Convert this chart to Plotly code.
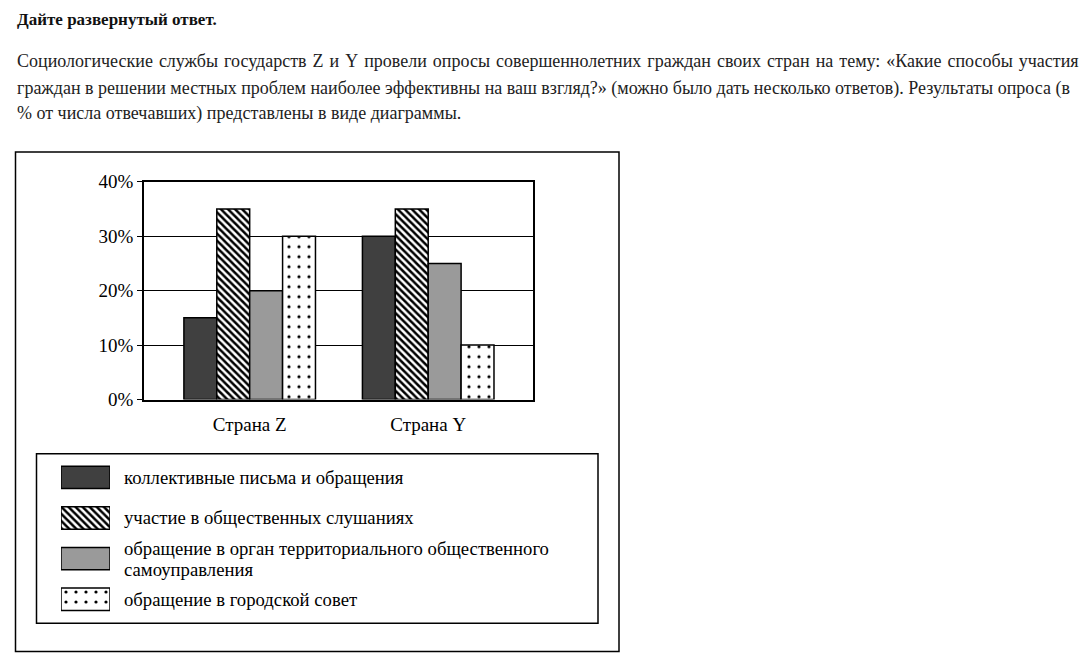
import plotly.graph_objects as go

W, H = 1088, 668

# ---- data ----
countries = ["Страна Z", "Страна Y"]
series_names = [
    "коллективные письма и обращения",
    "участие в общественных слушаниях",
    "обращение в орган территориального общественного<br>самоуправления",
    "обращение в городской совет",
]
collective_letters = [15, 30]
public_hearings = [35, 35]
self_government = [20, 25]
city_council = [30, 10]
series_values = [collective_letters, public_hearings, self_government, city_council]
y_ticks = [0, 10, 20, 30, 40]
y_tick_labels = ["0%", "10%", "20%", "30%", "40%"]

title_text = "Дайте развернутый ответ."
paragraph_lines = [
    "Социологические службы государств Z и Y провели опросы совершеннолетних граждан своих стран на тему: «Какие способы участия",
    "граждан в решении местных проблем наиболее эффективны на ваш взгляд?» (можно было дать несколько ответов). Результаты опроса (в",
    "% от числа отвечавших) представлены в виде диаграммы.",
]

# ---- styles ----
fills = ["#404040", "white", "#9a9a9a", "white"]
shapes_pat = ["", "\\", "", "."]
pat_size = [8, 5, 8, 10]
pat_sol = [0.3, 0.5, 0.3, 0.08]
SERIF = "Liberation Serif"
SCALE_Y, OFF_Y = 0.965, 10.9


def px(x):
    return x / W


def py(y):
    return 1 - ((y - OFF_Y) / SCALE_Y) / H


def marker_for(i):
    return dict(color=fills[i], line=dict(color="black", width=1.5),
                pattern=dict(shape=shapes_pat[i], fgcolor="black", bgcolor=fills[i],
                             size=pat_size[i], solidity=pat_sol[i], fillmode="replace"))


fig = go.Figure()

xpos = list(range(len(countries)))
for i, name in enumerate(series_names):
    fig.add_trace(go.Bar(
        x=xpos, y=series_values[i], name=name, marker=marker_for(i),
        showlegend=False, xaxis="x", yaxis="y",
    ))

# legend swatches drawn as a tiny bar chart
for i, name in enumerate(series_names):
    fig.add_trace(go.Bar(
        y=[i], x=[1], orientation="h", width=0.55, offset=-0.275,
        marker=marker_for(i), showlegend=False, xaxis="x2", yaxis="y2", hoverinfo="skip",
    ))

annotations = []
annotations.append(dict(text="<b>" + title_text + "</b>", x=px(15), y=py(20), xref="paper", yref="paper",
                        xanchor="left", yanchor="middle", showarrow=False,
                        font=dict(family=SERIF, size=17, color="#111")))
line_y = [62, 89, 114]
for j, (t, yy) in enumerate(zip(paragraph_lines, line_y)):
    if j == 0:
        t = t.replace(" ", "\u200a ")
    annotations.append(dict(text=t, x=px(15), y=py(yy), xref="paper", yref="paper",
                            xanchor="left", yanchor="middle", showarrow=False,
                            font=dict(family=SERIF, size=18, color="#222")))

row_y = [476.5, 517, 558, 598]
for name, yy in zip(series_names, row_y):
    parts = name.split("<br>")
    n = len(parts)
    for k, part in enumerate(parts):
        ycen = yy + (k - (n - 1) / 2) * 20.5
        annotations.append(dict(text=part, x=px(123), y=py(ycen), xref="paper", yref="paper",
                                xanchor="left", yanchor="middle", showarrow=False, borderpad=0,
                                font=dict(family=SERIF, size=18.7, color="black")))

shapes = [
    dict(type="rect", xref="paper", yref="paper", x0=px(15.5), x1=px(619), y0=py(152.5), y1=py(650),
         line=dict(color="black", width=1.5)),
    dict(type="rect", xref="paper", yref="paper", x0=px(36.5), x1=px(598), y0=py(453), y1=py(622),
         line=dict(color="black", width=1.5)),
]

fig.update_layout(
    width=W, height=H,
    margin=dict(l=0, r=0, t=0, b=0),
    paper_bgcolor="white", plot_bgcolor="white",
    barmode="group", bargap=0.263, bargroupgap=0,
    annotations=annotations, shapes=shapes,
    xaxis=dict(domain=[px(144), px(533)], range=[-0.592, 1.587],
               tickvals=xpos, ticktext=countries, showgrid=False, zeroline=False,
               showline=True, mirror=True, linecolor="black", linewidth=1.5,
               ticks="", ticklabelstandoff=7,
               tickfont=dict(family=SERIF, size=19, color="black")),
    yaxis=dict(domain=[py(399), py(182)], range=[0, 40],
               tickvals=y_ticks, ticktext=y_tick_labels,
               showgrid=True, gridcolor="black", gridwidth=1.3, zeroline=False,
               showline=True, mirror=True, linecolor="black", linewidth=1.5,
               ticks="outside", ticklen=5, tickcolor="black", tickwidth=1.3,
               tickfont=dict(family=SERIF, size=19, color="black")),
    xaxis2=dict(domain=[px(61), px(110)], range=[0, 1], visible=False, anchor="y2"),
    yaxis2=dict(domain=[py(618.25), py(456.25)], range=[3.5, -0.5], visible=False, anchor="x2"),
)

fig.write_html("out.html", config={"displayModeBar": False},
               post_script="document.body.style.margin='0';document.body.style.padding='0';")
